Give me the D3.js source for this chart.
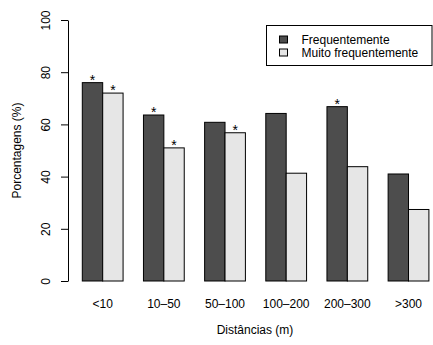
<!DOCTYPE html>
<html>
<head>
<meta charset="utf-8">
<script src="https://cdn.jsdelivr.net/npm/d3@7"></script>
<style>
  html, body { margin: 0; padding: 0; background: #fff; }
  svg { display: block; }
  text { font-family: "Liberation Sans", Arial, Helvetica, sans-serif; font-size: 12px; fill: #000; }
</style>
</head>
<body>
<svg id="chart" width="433" height="345"></svg>
<script>
const categories = ["<10", "10\u201350", "50\u2013100", "100\u2013200", "200\u2013300", ">300"];
const seriesNames = ["Frequentemente", "Muito frequentemente"];
const frequentemente = [76, 63.6, 60.8, 64.2, 66.8, 41];
const muitoFrequentemente = [72, 51, 56.8, 41.3, 43.8, 27.4];
const starFreq = [true, true, false, false, true, false];
const starMuito = [true, true, true, false, false, false];
const yTicks = [0, 20, 40, 60, 80, 100];
const colors = ["#4d4d4d", "#e6e6e6"];

const svg = d3.select("#chart");

// x in R barplot units: each bar width 1, one bar space between groups
const x = d3.scaleLinear().domain([1, 18]).range([82.3, 428.9]);
const y = d3.scaleLinear().domain([0, 100]).range([281, 20]);

const bars = [];
categories.forEach((c, i) => {
  bars.push({ s: 0, i, v: frequentemente[i], x0: 1 + 3 * i, star: starFreq[i] });
  bars.push({ s: 1, i, v: muitoFrequentemente[i], x0: 2 + 3 * i, star: starMuito[i] });
});

svg.append("g").selectAll("rect").data(bars).join("rect")
  .attr("x", d => x(d.x0))
  .attr("y", d => y(d.v))
  .attr("width", d => x(d.x0 + 1) - x(d.x0))
  .attr("height", d => y(0) - y(d.v))
  .attr("fill", d => colors[d.s])
  .attr("stroke", "#000")
  .attr("stroke-width", 1);

svg.append("g").selectAll("text").data(bars.filter(d => d.star)).join("text")
  .attr("x", d => x(d.x0 + 0.5))
  .attr("y", d => y(d.v) + 2)
  .attr("text-anchor", "middle")
  .style("font-size", "14px")
  .attr("fill", "#222")
  .text("*");

// y axis
const yAxis = d3.axisLeft(y).tickValues(yTicks).tickSize(7).tickSizeOuter(0).tickFormat(d3.format("d"));
const gy = svg.append("g").attr("transform", "translate(68,0)").call(yAxis);
gy.select(".domain").attr("stroke", "#000");
gy.selectAll(".tick line").attr("stroke", "#000");
gy.selectAll(".tick text")
  .attr("transform", "rotate(-90)")
  .attr("x", 0).attr("y", -18).attr("dy", 0)
  .attr("text-anchor", "middle")
  .style("font-size", "12px")
  .style("font-family", '"Liberation Sans", Arial, sans-serif')
  .attr("fill", "#000");

// x category labels
svg.append("g").selectAll("text").data(categories).join("text")
  .attr("x", (d, i) => x(2 + 3 * i))
  .attr("y", 308)
  .attr("text-anchor", "middle")
  .text(d => d);

// axis titles
svg.append("text")
  .attr("x", 255).attr("y", 334)
  .attr("text-anchor", "middle")
  .text("Dist\u00e2ncias (m)");

svg.append("text")
  .attr("transform", "translate(21,150.5) rotate(-90)")
  .attr("text-anchor", "middle")
  .text("Porcentagens (%)");

// legend
const lg = svg.append("g");
lg.append("rect").attr("x", 266.5).attr("y", 25.5).attr("width", 165.5).attr("height", 40)
  .attr("fill", "#fff").attr("stroke", "#000");
seriesNames.forEach((n, k) => {
  const cy = 39.5 + k * 13;
  lg.append("rect").attr("x", 279.5).attr("y", cy - 3.5).attr("width", 8).attr("height", 7)
    .attr("fill", colors[k]).attr("stroke", "#000");
  lg.append("text").attr("x", 301.5).attr("y", cy).attr("dy", "0.35em").text(n);
});
</script>
</body>
</html>
